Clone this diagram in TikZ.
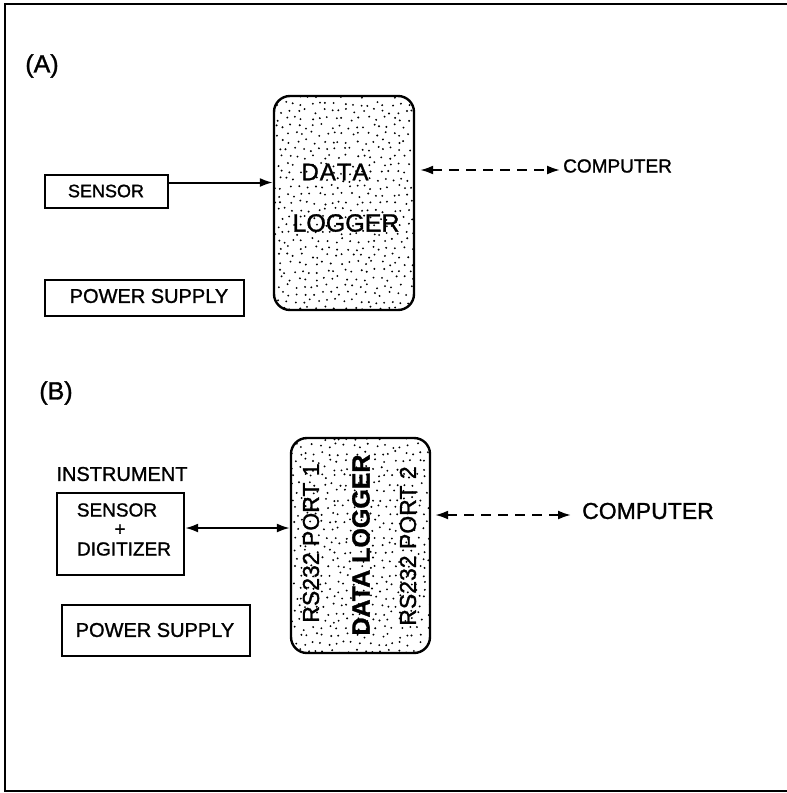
\documentclass[tikz,border=0pt]{standalone}
\usepackage{fontspec}
\setmainfont{Liberation Sans}[FakeBold=1.2]
\usetikzlibrary{arrows.meta,calc}

\newcommand{\fs}[1]{\fontsize{#1}{#1}\selectfont}

\tikzset{
  frameline/.style={line width=1.3pt},
  plainbox/.style={draw, line width=2.4pt, inner sep=0pt},
  loggerbox/.style={draw, line width=2.4pt, rounded corners=16pt, inner sep=0pt},
  label/.style={inner sep=0pt},
  link/.style={line width=2pt},
  dashlink/.style={line width=2pt, dash pattern=on 10pt off 7pt},
  onehead/.style={-{Latex[length=13pt, width=9pt]}},
  twoheads/.style={{Latex[length=13pt, width=9pt]}-{Latex[length=13pt, width=9pt]}},
  stipple/.style={fill=black}
}

% stippled interior of a rounded box given by its two corners
\newcommand{\stipplebox}[4]{%
  \begin{scope}
    \clip[rounded corners=16pt] (#1,#2) rectangle (#3,#4);
    \foreach \row in {0,...,30} {
      \foreach \col in {0,...,20} {
        \pgfmathsetmacro{\px}{#1 + 8.2*\col + 4.1*mod(\row,2) + 2.6*rand}
        \pgfmathsetmacro{\py}{#2 + 7.6*\row + 2.4*rand}
        \fill[stipple] (\px,\py) circle[radius=1.05pt];
      }
    }
  \end{scope}}

\begin{document}
\begin{tikzpicture}[x=1pt, y=-1pt]
\useasboundingbox (0,0) rectangle (787,793);
\pgfmathsetseed{4242}

% outer frame (top, left, bottom)
\draw[frameline] (787,4) -- (5,4) -- (5,791) -- (787,791);

% ---------------- (A) ----------------
\node[label, font=\fs{25}] (tagA) at (42,66) {(A)};

\node[plainbox, minimum width=123pt, minimum height=33pt] (sensorA) at (106.5,191.5) {};
\node[label, font=\fs{18}] (sensorAtxt) at (106,191) {SENSOR};

\node[plainbox, minimum width=199pt, minimum height=36pt] (powerA) at (144.5,298) {};
\node[label, font=\fs{20}] (powerAtxt) at (149,296) {POWER SUPPLY};

\node[loggerbox, minimum width=140pt, minimum height=214pt] (loggerA) at (344,203) {};
\stipplebox{274}{96}{414}{310}
\node[label, font=\fs{24}] (dataA) at (335,172) {D\kern1ptA\kern1ptT\kern1ptA};
\node[label, font=\fs{25}] (logA) at (346,223) {LOGGER};

\node[label, font=\fs{19}, anchor=west] (compA) at (563,166) {COMPUTER};
\coordinate (endA) at (560,170);

\draw[link, onehead] ($(sensorA.east)+(0,-9)$) -- ($(sensorA.east -| loggerA.west)+(0,-9)$);
\draw[dashlink, twoheads] ($(loggerA.east |- endA)+(5,0)$) -- (endA);

% ---------------- (B) ----------------
\node[label, font=\fs{25}] (tagB) at (56,393) {(B)};

\node[label, font=\fs{20}] (instr) at (122,474) {INSTRUMENT};

\node[plainbox, minimum width=127pt, minimum height=82pt] (digit) at (120.5,534) {};
\node[label, font=\fs{19}] (digitS) at (117,510) {SENSOR};
\node[label, font=\fs{19}] (digitP) at (120,530) {+};
\node[label, font=\fs{19}] (digitD) at (124,549) {DIGITIZER};

\node[plainbox, minimum width=188pt, minimum height=51pt] (powerB) at (156,630.5) {};
\node[label, font=\fs{20}] (powerBtxt) at (155,630) {POWER SUPPLY};

\node[loggerbox, minimum width=139pt, minimum height=215pt] (loggerB) at (360.5,545.5) {};
\stipplebox{291}{438}{430}{653}
\node[label, font=\fs{23}, rotate=90] (port1) at (311,543) {RS232 PORT 1};
\node[label, font=\bfseries\fs{25}, rotate=90] (dataB) at (361,545) {DATA LOGGER};
\node[label, font=\fs{23}, rotate=90] (port2) at (408,546) {RS232 PORT 2};

\node[label, font=\fs{23}, anchor=west] (compB) at (582,511) {COMPUTER};
\coordinate (endB) at (571,515);

\draw[link, twoheads] ($(digit.east)+(0,-6)$) -- ($(digit.east -| loggerB.west)+(0,-6)$);
\draw[dashlink, twoheads] ($(loggerB.east |- endB)+(4,0)$) -- (endB);
\end{tikzpicture}
\end{document}
